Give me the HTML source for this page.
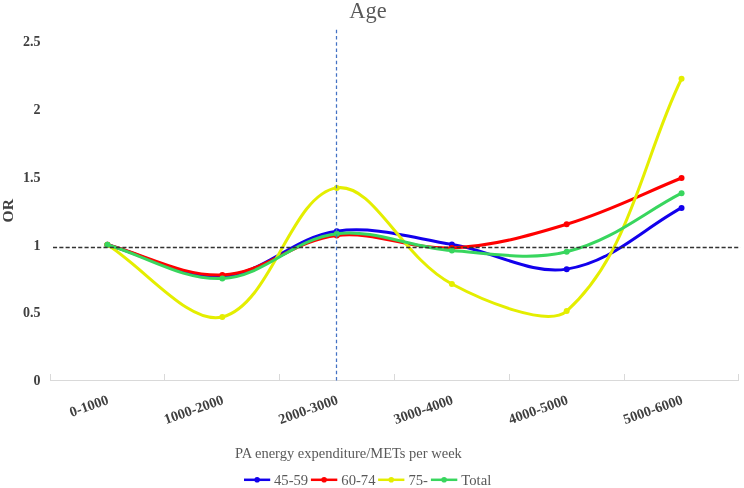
<!DOCTYPE html><html><head><meta charset="utf-8"><style>html,body{margin:0;padding:0;background:#fff;width:744px;height:488px;overflow:hidden}svg{display:block;will-change:transform}text{font-family:"Liberation Serif",serif}</style></head><body>
<svg width="744" height="488" viewBox="0 0 744 488">
<rect width="744" height="488" fill="#fff"/>
<text x="368" y="17.7" font-size="22.4" fill="#595959" text-anchor="middle">Age</text>
<text x="40.5" y="385.3" font-size="14" font-weight="bold" fill="#404040" text-anchor="end">0</text>
<text x="40.5" y="317.45" font-size="14" font-weight="bold" fill="#404040" text-anchor="end">0.5</text>
<text x="40.5" y="249.6" font-size="14" font-weight="bold" fill="#404040" text-anchor="end">1</text>
<text x="40.5" y="181.75" font-size="14" font-weight="bold" fill="#404040" text-anchor="end">1.5</text>
<text x="40.5" y="113.9" font-size="14" font-weight="bold" fill="#404040" text-anchor="end">2</text>
<text x="40.5" y="46.05" font-size="14" font-weight="bold" fill="#404040" text-anchor="end">2.5</text>
<text transform="translate(13.1,210.8) rotate(-90)" font-size="15.6" font-weight="bold" fill="#404040" text-anchor="middle">OR</text>
<path d="M50.0 380.5H739.0" stroke="#d9d9d9" stroke-width="1" fill="none"/>
<path d="M50.5 374V380.5M164.5 374V380.5M279.5 374V380.5M394.5 374V380.5M509.5 374V380.5M624.5 374V380.5M738.5 374V380.5" stroke="#d9d9d9" stroke-width="1" fill="none"/>
<text transform="translate(109.6,403.5) rotate(-19.5)" font-size="14.3" font-weight="bold" fill="#404040" text-anchor="end">0-1000</text>
<text transform="translate(224.5,403.5) rotate(-19.5)" font-size="14.3" font-weight="bold" fill="#404040" text-anchor="end">1000-2000</text>
<text transform="translate(339,403.5) rotate(-19.5)" font-size="14.3" font-weight="bold" fill="#404040" text-anchor="end">2000-3000</text>
<text transform="translate(454.1,403.5) rotate(-19.5)" font-size="14.3" font-weight="bold" fill="#404040" text-anchor="end">3000-4000</text>
<text transform="translate(568.9,403.5) rotate(-19.5)" font-size="14.3" font-weight="bold" fill="#404040" text-anchor="end">4000-5000</text>
<text transform="translate(683.75,403.5) rotate(-19.5)" font-size="14.3" font-weight="bold" fill="#404040" text-anchor="end">5000-6000</text>
<text x="348.4" y="457.5" font-size="14.5" fill="#595959" text-anchor="middle">PA energy expenditure/METs per week</text>
<path d="M107.4 244.8 C145.7 255.25 182.81 278.52 222.3 276.17 C265.4 273.6 291.99 237.35 336.8 231.14 C374.65 225.91 411.43 237.71 451.9 244.39 C494.19 251.38 530.45 274.9 566.7 269.14 C613.12 261.76 643.27 228.3 681.55 207.89" stroke="#1200ec" stroke-width="3.0" fill="none" stroke-linecap="round" stroke-linejoin="round"/>
<circle cx="107.4" cy="244.8" r="3.0" fill="#1200ec"/>
<circle cx="222.3" cy="276.17" r="3.0" fill="#1200ec"/>
<circle cx="336.8" cy="231.14" r="3.0" fill="#1200ec"/>
<circle cx="451.9" cy="244.39" r="3.0" fill="#1200ec"/>
<circle cx="566.7" cy="269.14" r="3.0" fill="#1200ec"/>
<circle cx="681.55" cy="207.89" r="3.0" fill="#1200ec"/>
<path d="M107.4 244.8 C145.7 254.85 182.17 276.58 222.3 274.95 C264.75 273.22 292.74 240.66 336.8 235.47 C375.4 230.93 411.37 249.89 451.9 247.91 C494.13 245.85 528.27 235.95 566.7 224.25 C610.94 210.78 643.27 193.42 681.55 178.01" stroke="#ff0000" stroke-width="3.0" fill="none" stroke-linecap="round" stroke-linejoin="round"/>
<circle cx="107.4" cy="244.8" r="3.0" fill="#ff0000"/>
<circle cx="222.3" cy="274.95" r="3.0" fill="#ff0000"/>
<circle cx="336.8" cy="235.47" r="3.0" fill="#ff0000"/>
<circle cx="451.9" cy="247.91" r="3.0" fill="#ff0000"/>
<circle cx="566.7" cy="224.25" r="3.0" fill="#ff0000"/>
<circle cx="681.55" cy="178.01" r="3.0" fill="#ff0000"/>
<path d="M107.4 244.8 C145.7 268.86 189.04 325.25 222.3 317 C271.63 304.76 291 194.46 336.8 187.88 C373.65 182.59 400.47 256.45 451.9 284.01 C483.23 300.79 547.92 327.83 566.7 311.05 C630.59 253.95 643.27 156.19 681.55 78.77" stroke="#e4ee00" stroke-width="3.0" fill="none" stroke-linecap="round" stroke-linejoin="round"/>
<circle cx="107.4" cy="244.8" r="3.0" fill="#e4ee00"/>
<circle cx="222.3" cy="317" r="3.0" fill="#e4ee00"/>
<circle cx="336.8" cy="187.88" r="3.0" fill="#e4ee00"/>
<circle cx="451.9" cy="284.01" r="3.0" fill="#e4ee00"/>
<circle cx="566.7" cy="311.05" r="3.0" fill="#e4ee00"/>
<circle cx="681.55" cy="78.77" r="3.0" fill="#e4ee00"/>
<path d="M107.4 244.8 C145.7 256.02 182.49 280.39 222.3 278.46 C265.07 276.4 292.28 239.11 336.8 233.71 C374.94 229.09 409.81 247.3 451.9 250.61 C492.57 253.82 531.4 260.66 566.7 251.83 C614.07 239.98 643.27 212.71 681.55 193.15" stroke="#38d65e" stroke-width="3.0" fill="none" stroke-linecap="round" stroke-linejoin="round"/>
<circle cx="107.4" cy="244.8" r="3.0" fill="#38d65e"/>
<circle cx="222.3" cy="278.46" r="3.0" fill="#38d65e"/>
<circle cx="336.8" cy="233.71" r="3.0" fill="#38d65e"/>
<circle cx="451.9" cy="250.61" r="3.0" fill="#38d65e"/>
<circle cx="566.7" cy="251.83" r="3.0" fill="#38d65e"/>
<circle cx="681.55" cy="193.15" r="3.0" fill="#38d65e"/>
<path d="M53 247.4H740.5" stroke="#333" stroke-width="1.5" stroke-dasharray="4.1 2.207" fill="none"/>
<path d="M336.5 29.8V380.8" stroke="#4472c4" stroke-width="1.25" stroke-dasharray="3.5 2.7" fill="none"/>
<path d="M244 479.8H270.2" stroke="#1200ec" stroke-width="2.5" fill="none"/>
<circle cx="257.1" cy="479.8" r="2.8" fill="#1200ec"/>
<text x="274" y="484.9" font-size="14.67" fill="#595959">45-59</text>
<path d="M310.9 479.8H337.3" stroke="#ff0000" stroke-width="2.5" fill="none"/>
<circle cx="324.1" cy="479.8" r="2.8" fill="#ff0000"/>
<text x="341.3" y="484.9" font-size="14.67" fill="#595959">60-74</text>
<path d="M378.1 479.8H404.4" stroke="#e4ee00" stroke-width="2.5" fill="none"/>
<circle cx="391.25" cy="479.8" r="2.8" fill="#e4ee00"/>
<text x="408.4" y="484.9" font-size="14.67" fill="#595959">75-</text>
<path d="M430.9 479.8H457.3" stroke="#38d65e" stroke-width="2.5" fill="none"/>
<circle cx="444.1" cy="479.8" r="2.8" fill="#38d65e"/>
<text x="461.3" y="484.9" font-size="14.67" fill="#595959">Total</text>
</svg></body></html>
